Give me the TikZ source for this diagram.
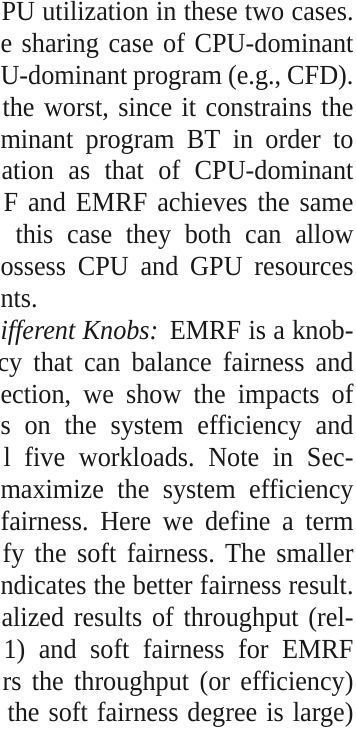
\documentclass[tikz,border=0pt]{standalone}
\usepackage{fontspec}
\setmainfont{Liberation Serif}[FakeStretch=0.95]
\frenchspacing
\newdimen\px
\px=0.3766pt

\begin{document}
\begin{tikzpicture}[x=0.3766pt, y=-0.3766pt,
    txt/.style = {inner sep = 0pt, anchor = base west, text = black!90, font = \fontsize{10.4}{12}\selectfont}]
        \useasboundingbox (0,0) rectangle (356,731);
        % right edge of the column is at 353
        \node[txt] (ln1) at (1, 20.5) {\makebox[352\px][s]{PU utilization in these two cases.}};
        \node[txt] (ln2) at (0, 52.4) {\makebox[353\px][s]{e sharing case of CPU-dominant}};
        \node[txt] (ln3) at (0, 84.3) {\makebox[353\px][s]{U-dominant program (e.g., CFD).}};
        \node[txt] (ln4) at (2, 116.1) {\makebox[351\px][s]{the worst, since it constrains the}};
        \node[txt] (ln5) at (0, 148.0) {\makebox[353\px][s]{minant program BT in order to}};
        \node[txt] (ln6) at (1, 179.9) {\makebox[352\px][s]{ation as that of CPU-dominant}};
        \node[txt] (ln7) at (3, 211.8) {\makebox[350\px][s]{F and EMRF achieves the same}};
        \node[txt] (ln8) at (15, 243.7) {\makebox[338\px][s]{this case they both can allow}};
        \node[txt] (ln9) at (0, 275.5) {\makebox[353\px][s]{ossess CPU and GPU resources}};
        \node[txt] (ln10) at (0, 307.4) {nts.};
        \node[txt] (ln11) at (0, 339.3) {\makebox[353\px][s]{\textit{ifferent Knobs:}\hspace{0.15em} EMRF is a knob-}};
        \node[txt] (ln12) at (-3, 371.2) {\makebox[356\px][s]{cy that can balance fairness and}};
        \node[txt] (ln13) at (0, 403.1) {\makebox[353\px][s]{ection, we show the impacts of}};
        \node[txt] (ln14) at (0, 434.9) {\makebox[353\px][s]{s on the system efficiency and}};
        \node[txt] (ln15) at (3, 466.8) {\makebox[350\px][s]{l five workloads. Note in Sec-}};
        \node[txt] (ln16) at (0, 498.7) {\makebox[353\px][s]{maximize the system efficiency}};
        \node[txt] (ln17) at (0, 530.6) {\makebox[353\px][s]{fairness. Here we define a term}};
        \node[txt] (ln18) at (2, 562.5) {\makebox[351\px][s]{fy the soft fairness. The smaller}};
        \node[txt] (ln19) at (0, 594.3) {\makebox[353\px][s]{ndicates the better fairness result.}};
        \node[txt] (ln20) at (1, 626.2) {\makebox[352\px][s]{alized results of throughput (rel-}};
        \node[txt] (ln21) at (3, 658.1) {\makebox[350\px][s]{1) and soft fairness for EMRF}};
        \node[txt] (ln22) at (2, 690.0) {\makebox[351\px][s]{rs the throughput (or efficiency)}};
        \node[txt] (ln23) at (7, 721.8) {\makebox[346\px][s]{the soft fairness degree is large)}};
    \end{tikzpicture}
\end{document}
